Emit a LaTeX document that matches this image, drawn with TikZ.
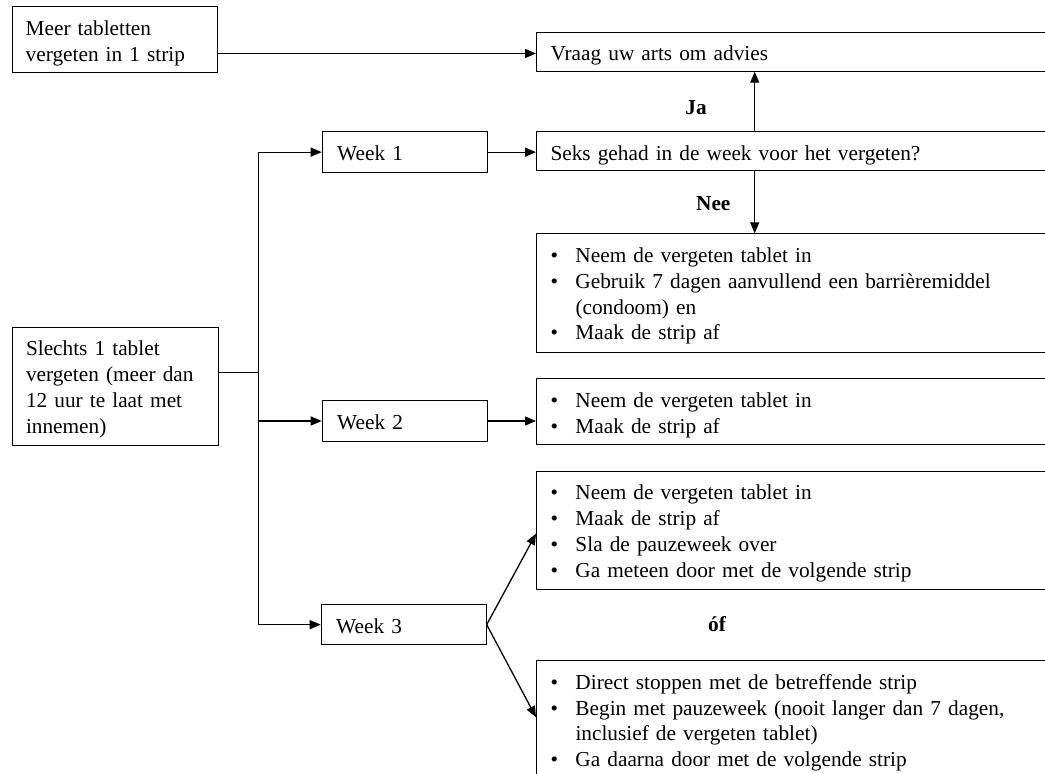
\documentclass[tikz,border=0pt]{standalone}
\usepackage{fontspec}
\setmainfont{Liberation Serif}
\usetikzlibrary{arrows.meta}
\newcommand{\bul}{\makebox[25pt][l]{\textbullet}}
\newcommand{\ind}{\hspace*{25pt}}
\begin{document}
\begin{tikzpicture}[x=1pt,y=-1pt,
  box/.style={draw, line width=1pt, anchor=north west, inner ysep=0pt, inner xsep=14pt,
    text height=28.7pt, align=left, font=\fontsize{21.3}{25.8}\selectfont},
  lbox/.style={box, inner xsep=13.5pt, text width=178.5pt},
  wbox/.style={box, inner xsep=15pt, text width=135pt},
  rbox/.style={box, text width=560pt},
  arr/.style={line width=1.3pt, -{Triangle[length=11pt,width=9pt]}},
  plain/.style={line width=1.2pt},
  lbl/.style={anchor=base, inner sep=0pt, font=\bfseries\fontsize{21.3}{25.8}\selectfont}]
\useasboundingbox (0,0) rectangle (1045,774);
\clip (0,0) rectangle (1045,774);

% left boxes
\node[lbox, text depth=37.6pt] (A) at (11.7,6) {Meer tabletten\\vergeten in 1 strip};
\node[lbox, text depth=89.6pt] (Sl) at (12,326.7) {Slechts 1 tablet\\vergeten (meer dan\\12 uur te laat met\\innemen)};

% week boxes
\node[wbox, text depth=12.6pt] (W1) at (321.7,131) {Week 1};
\node[wbox, text depth=12.3pt] (W2) at (321.7,400) {Week 2};
\node[wbox, text depth=11.6pt] (W3) at (320.7,604) {Week 3};

% right boxes
\node[rbox, text depth=10.3pt] (V) at (536,31.7) {Vraag uw arts om advies};
\node[rbox, text depth=10.3pt] (S) at (536,131) {Seks gehad in de week voor het vergeten?};
\node[rbox, text depth=89.7pt] (N1) at (536,233.3) {\bul Neem de vergeten tablet in\\\bul Gebruik 7 dagen aanvullend een barrièremiddel\\\ind (condoom) en\\\bul Maak de strip af};
\node[rbox, text depth=37pt] (R2) at (536,378.3) {\bul Neem de vergeten tablet in\\\bul Maak de strip af};
\node[rbox, text depth=89.6pt] (R3a) at (536,470.7) {\bul Neem de vergeten tablet in\\\bul Maak de strip af\\\bul Sla de pauzeweek over\\\bul Ga meteen door met de volgende strip};
\node[rbox, text depth=111.3pt] (R3b) at (536,660) {\bul Direct stoppen met de betreffende strip\\\bul Begin met pauzeweek (nooit langer dan 7 dagen,\\\ind inclusief de vergeten tablet)\\\bul Ga daarna door met de volgende strip};

% labels
\node[lbl] (ja) at (696,114) {Ja};
\node[lbl] (nee) at (713.3,210.7) {Nee};
\node[lbl] (of) at (717,631.7) {óf};

% helper coordinates
\coordinate (aY) at (0,53.5);
\coordinate (jx) at (754.7,0);
\coordinate (br) at (258.3,372.3);

% connectors
\draw[arr] (A.east |- aY) -- (V.west |- aY);
\draw[arr] (S.north -| jx) -- (V.south -| jx);
\draw[arr] (S.south -| jx) -- (N1.north -| jx);
\draw[plain] (Sl.east |- br) -- (br);
\draw[plain] (br |- W1.west) -- (br |- W3.west);
\draw[arr] (br |- W1.west) -- (W1.west);
\draw[arr] (br |- W2.west) -- (W2.west);
\draw[arr] (br |- W3.west) -- (W3.west);
\draw[arr] (W1.east) -- (W1.east -| S.west);
\draw[arr] (W2.east) -- (W2.east -| R2.west);
\draw[arr] (W3.east) -- ([yshift=-3.4pt]R3a.west);
\draw[arr] (W3.east) -- ([yshift=13.3pt]R3b.west);
\end{tikzpicture}
\end{document}
